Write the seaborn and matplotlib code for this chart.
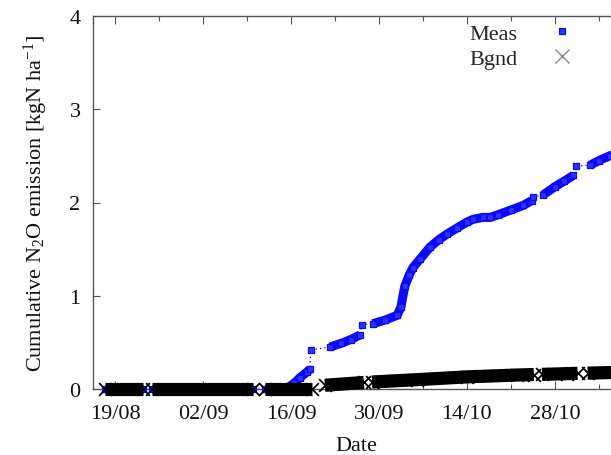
import numpy as np
import pandas as pd
import matplotlib
matplotlib.use("Agg")
import matplotlib.pyplot as plt
import matplotlib.dates as mdates
from matplotlib.lines import Line2D
import seaborn as sns

# ---------------- data (days after 19/08, cumulative kgN/ha) ----------------
start_date = "2010-08-19"

meas_day = [-1.6, 1.5, 4.5,
            5.9, 14.0, 22.0,
            23.9, 26.0, 27.4, 28.5, 29.4, 30.5, 31.0,
            31.15,
            34.2, 36.0, 37.5, 39.0,
            39.3,
            41.0, 43.0, 44.9, 45.5, 46.1, 46.8, 47.4, 48.5, 50.1, 51.5, 52.8, 54.5,
            56.0, 57.0, 58.5, 59.7, 61.0, 63.0, 65.0, 66.3,
            66.55,
            68.1, 70.0, 71.5, 72.9,
            73.3,
            75.6, 77.0, 78.7, 81.0]
meas_val = [0.0, 0.0, 0.0,
            0.0, 0.0, 0.0,
            0.0, 0.0, 0.01, 0.06, 0.12, 0.18, 0.21,
            0.42,
            0.45, 0.49, 0.53, 0.58,
            0.69,
            0.70, 0.74, 0.79, 0.88, 1.10, 1.22, 1.30, 1.39, 1.52, 1.60, 1.66, 1.73,
            1.79, 1.82, 1.84, 1.84, 1.87, 1.92, 1.97, 2.02,
            2.06,
            2.08, 2.17, 2.23, 2.29,
            2.39,
            2.40, 2.45, 2.50, 2.55]
meas_seg = [0, 0, 0,
            1, 1, 1,
            2, 2, 2, 2, 2, 2, 2,
            3,
            4, 4, 4, 4,
            5,
            6, 6, 6, 6, 6, 6, 6, 6, 6, 6, 6, 6,
            6, 6, 6, 6, 6, 6, 6, 6,
            7,
            8, 8, 8, 8,
            9,
            10, 10, 10, 10]

bgnd_day = [-1.6, 4.45,
            5.9, 22.0,
            23.9, 31.3,
            33.4, 39.6,
            40.9, 48.0, 56.0, 64.0, 66.65,
            67.95, 72.0, 73.6,
            75.2, 81.0]
bgnd_val = [0.0, 0.0,
            0.0, 0.0,
            0.0, 0.0,
            0.04, 0.07,
            0.075, 0.10, 0.13, 0.15, 0.155,
            0.157, 0.165, 0.168,
            0.17, 0.18]
bgnd_seg = [0, 0,
            1, 1,
            2, 2,
            3, 3,
            4, 4, 4, 4, 4,
            5, 5, 5,
            6, 6]

y_ticks = [0, 1, 2, 3, 4]
x_major_days = [0, 14, 28, 42, 56, 70]
x_minor_days = [7, 21, 35, 49, 63, 77]

# ---------------- build frames ----------------
base = pd.Timestamp(start_date)
meas = pd.DataFrame({"date": base + pd.to_timedelta(meas_day, unit="D"),
                     "value": meas_val, "seg": meas_seg})
bgnd = pd.DataFrame({"date": base + pd.to_timedelta(bgnd_day, unit="D"),
                     "value": bgnd_val, "seg": bgnd_seg})

# ---------------- style ----------------
sns.set_style("ticks")
plt.rcParams["font.family"] = ["Liberation Serif", "DejaVu Serif"]
plt.rcParams["mathtext.fontset"] = "custom"
plt.rcParams["mathtext.rm"] = "Liberation Serif"
plt.rcParams["mathtext.it"] = "Liberation Serif:italic"

FS = 16

fig = plt.figure(figsize=(6.11, 4.56), dpi=100)
ax = fig.add_axes([93 / 611, 1 - 390 / 456, (619 - 93) / 611, (390 - 17) / 456])

blue = "#0a0aff"
spine_c = "#555555"

# Meas: dotted connection through all points
sns.lineplot(data=meas, x="date", y="value", estimator=None, sort=False,
             color=blue, linewidth=0.9, linestyle=(0, (1, 2.5)), ax=ax, legend=False,
             clip_on=False, zorder=2)
# Meas dense runs
sns.lineplot(data=meas, x="date", y="value", units="seg", estimator=None, sort=False,
             color=blue, linewidth=6.5, ax=ax, legend=False, clip_on=False, zorder=3,
             solid_capstyle="butt")
# Meas individual points
sns.scatterplot(data=meas, x="date", y="value", marker="s", s=13,
                color="#3030ff", edgecolor=blue, linewidth=0.9, ax=ax,
                legend=False, clip_on=False, zorder=4)

# Bgnd dense runs
sns.lineplot(data=bgnd, x="date", y="value", units="seg", estimator=None, sort=False,
             color="black", linewidth=9.5, ax=ax, legend=False, clip_on=False, zorder=5,
             solid_capstyle="butt")
sns.scatterplot(data=bgnd, x="date", y="value", marker="x", s=85,
                color="black", linewidth=1.3, ax=ax, legend=False,
                clip_on=False, zorder=6)

# ---------------- axes ----------------
ax.set_xlim(base + pd.Timedelta(days=-3.5), base + pd.Timedelta(days=80.2))
ax.set_ylim(0, 4)
ax.set_yticks(y_ticks)
ax.set_yticklabels([str(t) for t in y_ticks])
ax.set_xticks([base + pd.Timedelta(days=d) for d in x_major_days])
ax.set_xticks([base + pd.Timedelta(days=d) for d in x_minor_days], minor=True)
ax.xaxis.set_major_formatter(mdates.DateFormatter("%d/%m"))

ax.tick_params(axis="both", which="both", direction="in", top=True, right=True,
               colors=spine_c, labelcolor="#111111", labelsize=FS, width=0.8)
ax.tick_params(axis="x", which="major", length=6, pad=11)
ax.tick_params(axis="x", which="minor", length=3.5)
ax.tick_params(axis="y", which="major", length=5, pad=9)
for sp in ax.spines.values():
    sp.set_color(spine_c)
    sp.set_linewidth(1.0)

ax.set_xlabel("Date", fontsize=FS, color="#111111", labelpad=9)
ax.set_ylabel(r"Cumulative N$_2$O emission [kgN ha$^{-1}$]", fontsize=FS,
              color="#111111", labelpad=14)

handles = [Line2D([], [], ls="none", marker="s", ms=3.8, color="#3030ff",
                  mec=blue, mew=0.9),
           Line2D([], [], ls="none", marker="x", ms=10, color="#888888", mew=1.0)]
fig.legend(handles, ["Meas", "Bgnd"], loc="upper left",
           bbox_to_anchor=(469 / 611, 1 - 24 / 456), frameon=False,
           markerfirst=False, handlelength=2.0, handletextpad=1.0,
           labelspacing=0.2, borderpad=0, borderaxespad=0, fontsize=FS)

fig.savefig("out.png", dpi=100)
